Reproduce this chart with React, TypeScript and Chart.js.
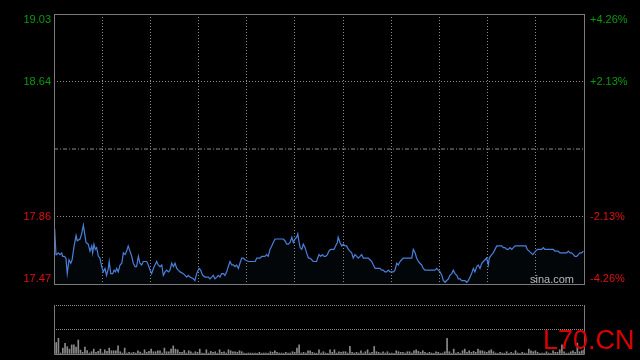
import React, { useEffect, useRef } from "react";
import { Chart, registerables } from "chart.js";

Chart.register(...registerables);

// ---- data ----
const prevClose = 18.25;
const priceTicks = [17.47, 17.86, 18.25, 18.64, 19.03];
const pctTicks = ["-4.26%", "-2.13%", "", "+2.13%", "+4.26%"];
const sessionMinutes = 240;
const gridSections = 11;
const volumeAxisMax = 500;

const times = [
  0.3, 0.9, 1.2, 1.9, 2.7, 3.5, 3.9, 4.7, 5.4, 6.0, 6.8, 7.6, 8.2, 9.1, 10.0, 10.5, 11.8, 12.5, 13.3, 13.9,
  14.5, 15.5, 16.3, 17.1, 17.5, 18.1, 18.7, 19.3, 20.1, 20.8, 21.6, 22.3, 23.1, 23.8, 24.6, 25.0, 25.7, 26.6, 27.2, 27.8,
  28.4, 29.1, 29.9, 30.7, 31.4, 32.2, 32.9, 33.6, 34.4, 35.2, 35.9, 36.7, 37.4, 38.2, 38.9, 39.7, 40.4, 41.2, 42.0, 42.7,
  43.5, 44.2, 45.3, 46.5, 47.2, 48.0, 48.8, 49.5, 50.3, 51.0, 51.8, 52.5, 53.3, 54.1, 54.8, 55.6, 56.3, 57.1, 58.6, 60.1,
  60.8, 61.6, 63.1, 63.8, 64.6, 65.7, 66.4, 67.3, 68.4, 69.9, 70.6, 71.4, 72.1, 72.9, 73.7, 74.4, 75.2, 75.9, 76.7,
  77.4, 78.2, 78.9, 79.7, 80.5, 81.2, 82.0, 82.7, 83.5, 84.2, 85.0, 85.7, 86.5, 88.0, 89.2, 90.3, 91.1, 91.8, 92.6, 93.3,
  94.1, 94.8, 95.5, 96.3, 97.0, 97.8, 98.6, 99.3, 100.1, 100.8, 101.6, 102.3, 103.1, 103.8, 104.6, 105.4, 106.1, 106.9, 107.7, 108.4,
  109.1, 109.9, 110.4, 111.0, 111.5, 112.2, 112.9, 113.7, 114.4, 115.2, 115.9, 116.7, 117.4, 118.2, 118.9, 119.4, 120.0, 120.8, 121.5, 122.3,
  123.0, 123.8, 124.5, 125.3, 126.0, 126.8, 127.5, 128.3, 128.7, 129.5, 130.3, 131.0, 131.8, 132.5, 133.3, 134.0, 134.8, 135.5, 136.3, 137.1,
  137.8, 138.6, 139.3, 140.1, 140.8, 141.6, 142.3, 143.1, 143.9, 144.6, 145.4, 146.1, 146.9, 147.6, 148.4, 149.1, 149.9, 150.6, 151.4, 152.2,
  152.9, 153.7, 154.4, 155.2, 155.9, 156.7, 157.4, 158.2, 158.9,
  159.7, 161.2, 162.0, 162.7, 163.5, 164.2, 165.0, 165.7, 166.5, 167.2, 168.0, 169.5, 171.0, 172.5, 173.3, 174.0, 174.8, 175.6, 176.3, 177.1,
  177.8, 178.6, 179.3, 180.1, 180.8, 181.6, 182.4, 183.1, 183.9, 184.6, 185.4, 186.1, 186.9, 187.6, 188.4, 189.1, 189.9, 190.6, 191.4, 192.1,
  192.9, 193.7, 194.4, 195.2, 195.9, 196.7, 197.1, 198.2, 198.9, 199.7, 200.5, 201.2, 202.7, 203.5, 204.2, 205.0, 205.7, 206.5, 207.3, 208.0,
  208.8, 211.0, 213.7, 214.3, 215.2, 216.0, 216.8, 217.4, 218.1, 218.9, 219.8, 220.8, 221.6, 222.3, 223.1, 223.8, 224.6, 225.3, 226.1, 226.8,
  227.6, 228.3, 229.1, 229.9, 230.6, 231.4, 232.2, 232.9, 233.7, 234.4, 235.2, 235.9, 236.7, 237.4, 238.2, 239.0, 239.7,
];

const prices = [
  17.79, 17.64, 17.64, 17.65, 17.64, 17.65, 17.63, 17.63, 17.62, 17.53, 17.61, 17.59, 17.61, 17.69, 17.75, 17.72, 17.73, 17.76, 17.81, 17.76,
  17.71, 17.70, 17.66, 17.69, 17.65, 17.70, 17.67, 17.68, 17.63, 17.62, 17.57, 17.54, 17.56, 17.52, 17.56, 17.60, 17.53, 17.53, 17.55, 17.54,
  17.56, 17.54, 17.58, 17.59, 17.65, 17.64, 17.66, 17.69, 17.66, 17.63, 17.59, 17.57, 17.57, 17.63, 17.59, 17.58, 17.60, 17.60, 17.60, 17.58,
  17.55, 17.53, 17.57, 17.60, 17.58, 17.57, 17.58, 17.52, 17.54, 17.55, 17.54, 17.55, 17.59, 17.57, 17.59, 17.56, 17.55, 17.54, 17.53, 17.51,
  17.52, 17.51, 17.50, 17.49, 17.53, 17.56, 17.55, 17.52, 17.51, 17.51, 17.50, 17.51, 17.52, 17.50, 17.51, 17.52, 17.51, 17.53, 17.53,
  17.52, 17.54, 17.57, 17.60, 17.58, 17.58, 17.57, 17.58, 17.56, 17.59, 17.62, 17.62, 17.61, 17.60, 17.60, 17.60, 17.60, 17.62, 17.62, 17.62,
  17.63, 17.63, 17.63, 17.64, 17.63, 17.67, 17.69, 17.71, 17.73, 17.73, 17.73, 17.73, 17.73, 17.73, 17.72, 17.70, 17.70, 17.71, 17.74, 17.71,
  17.73, 17.74, 17.76, 17.71, 17.68, 17.67, 17.70, 17.68, 17.65, 17.62, 17.62, 17.61, 17.60, 17.60, 17.60, 17.62, 17.64, 17.63, 17.64, 17.63,
  17.63, 17.64, 17.66, 17.67, 17.67, 17.67, 17.69, 17.71, 17.74, 17.71, 17.69, 17.70, 17.69, 17.69, 17.67, 17.66, 17.65, 17.62, 17.64, 17.63,
  17.62, 17.63, 17.64, 17.62, 17.62, 17.62, 17.62, 17.61, 17.60, 17.58, 17.56, 17.56, 17.56, 17.56, 17.55, 17.55, 17.54, 17.54, 17.55, 17.54,
  17.54, 17.54, 17.55, 17.59, 17.58, 17.60, 17.61, 17.62, 17.62,
  17.62, 17.62, 17.62, 17.67, 17.65, 17.62, 17.60, 17.59, 17.58, 17.56, 17.55, 17.55, 17.55, 17.55, 17.56, 17.55, 17.54, 17.52, 17.49, 17.48,
  17.49, 17.50, 17.52, 17.53, 17.55, 17.53, 17.52, 17.50, 17.50, 17.49, 17.49, 17.49, 17.48, 17.49, 17.51, 17.53, 17.56, 17.54, 17.57, 17.58,
  17.56, 17.59, 17.60, 17.61, 17.62, 17.58, 17.62, 17.64, 17.65, 17.67, 17.69, 17.69, 17.69, 17.68, 17.68, 17.67, 17.67, 17.68, 17.67, 17.68,
  17.69, 17.69, 17.69, 17.67, 17.66, 17.65, 17.64, 17.65, 17.66, 17.67, 17.67, 17.67, 17.68, 17.67, 17.67, 17.67, 17.67, 17.67, 17.67, 17.66,
  17.66, 17.66, 17.65, 17.65, 17.65, 17.65, 17.65, 17.66, 17.65, 17.65, 17.64, 17.63, 17.63, 17.64, 17.65, 17.65, 17.66,
];

// one value per minute, 0..240
const volumes = [
  60, 117, 160, 10, 60, 110, 75, 50, 93, 93, 70, 143, 40, 17, 70, 35, 10, 23, 50, 17,
  27, 50, 10, 43, 27, 60, 33, 33, 33, 83, 23, 10, 60, 10, 17, 10, 17, 10, 33, 20,
  8, 43, 17, 27, 50, 23, 23, 33, 33, 10, 60, 23, 23, 50, 83, 50, 43, 17, 17, 37,
  10, 33, 23, 10, 23, 17, 50, 10, 8, 43, 10, 27, 17, 23, 8, 43, 17, 23, 10, 43,
  33, 23, 23, 17, 33, 23, 10, 8, 10, 10, 8, 10, 8, 17, 8, 10, 10, 8, 23, 17,
  33, 17, 10, 10, 8, 17, 10, 10, 23, 17, 60, 93, 10, 17, 10, 33, 33, 17, 10, 8,
  43, 10, 23, 10, 8, 43, 17, 43, 10, 23, 17, 23, 23, 10, 77, 17, 10, 17, 10, 33,
  10, 23, 43, 10, 17, 77, 23, 17, 10, 23, 10, 23, 8, 10, 8, 33, 23, 17, 17, 10,
  23, 23, 10, 33, 43, 27, 17, 33, 17, 8, 17, 10, 8, 23, 17, 8, 10, 23, 160, 23,
  8, 50, 10, 17, 8, 33, 50, 17, 33, 17, 27, 17, 50, 33, 33, 23, 17, 33, 43, 23,
  10, 8, 17, 10, 8, 23, 8, 17, 8, 33, 10, 8, 17, 10, 8, 50, 33, 23, 33, 17,
  8, 10, 8, 23, 10, 8, 33, 17, 17, 43, 93, 23, 8, 10, 23, 33, 17, 110, 23, 33,
  43,
];

// ---- style ----
const FONT = "'Liberation Sans', Arial, sans-serif";
const GREEN = "#0c9a0c";
const RED = "#e01010";
const FRAME = "#7a7a7a";
const GRID = "#8c8c8c";
const LINE = "#4a80dc";

const gridTicks = Array.from({ length: gridSections + 1 }, (_, i) => ({ value: (i * sessionMinutes) / gridSections }));

function xAxis() {
  return {
    type: "linear" as const,
    min: 0,
    max: sessionMinutes,
    ticks: { display: false },
    grid: { color: GRID, lineWidth: 1, drawTicks: false },
    border: { display: false, dash: [1, 2] },
    afterBuildTicks: (s: any) => {
      s.ticks = gridTicks.map((t) => ({ ...t }));
    },
    afterFit: (s: any) => {
      s.height = 0;
    },
  };
}

const pricePlugin = {
  id: "priceFrameLabels",
  afterDraw(chart: any) {
    const { ctx, chartArea } = chart;
    const ys = chart.scales.y;
    ctx.save();
    ctx.strokeStyle = FRAME;
    ctx.lineWidth = 1;
    ctx.strokeRect(chartArea.left + 0.5, chartArea.top + 0.5, chartArea.right - chartArea.left, chartArea.bottom - chartArea.top);
    ctx.font = `11px ${FONT}`;
    priceTicks.forEach((v, i) => {
      if (Math.abs(v - prevClose) < 1e-6) return;
      const py = ys.getPixelForValue(v);
      ctx.fillStyle = v > prevClose ? GREEN : RED;
      ctx.textBaseline = i === priceTicks.length - 1 ? "top" : i === 0 ? "bottom" : "middle";
      ctx.textAlign = "right";
      ctx.fillText(v.toFixed(2), chartArea.left - 3, py);
      ctx.textAlign = "left";
      ctx.fillText(pctTicks[i], chartArea.right + 6, py);
    });
    ctx.restore();
  },
};

const volumePlugin = {
  id: "volumeFrame",
  afterDraw(chart: any) {
    const { ctx, chartArea } = chart;
    ctx.save();
    ctx.strokeStyle = FRAME;
    ctx.lineWidth = 1;
    ctx.beginPath();
    ctx.moveTo(chartArea.left + 0.5, chartArea.top);
    ctx.lineTo(chartArea.left + 0.5, chartArea.bottom + 0.5);
    ctx.lineTo(chartArea.right + 0.5, chartArea.bottom + 0.5);
    ctx.lineTo(chartArea.right + 0.5, chartArea.top);
    ctx.stroke();
    ctx.restore();
  },
};

export default function App() {
  const priceRef = useRef<HTMLCanvasElement>(null);
  const volRef = useRef<HTMLCanvasElement>(null);

  useEffect(() => {
    const n = Math.min(times.length, prices.length);
    const pricePoints = Array.from({ length: n }, (_, i) => ({ x: times[i], y: prices[i] }));
    const priceChart = new Chart(priceRef.current!, {
      type: "line",
      data: {
        datasets: [
          {
            data: pricePoints,
            borderColor: LINE,
            borderWidth: 1.2,
            pointRadius: 0,
            tension: 0,
            fill: "start",
            backgroundColor: "rgba(74,128,220,0.045)",
          },
          {
            data: [
              { x: 0, y: prevClose },
              { x: sessionMinutes, y: prevClose },
            ],
            borderColor: GRID,
            borderWidth: 1,
            borderDash: [4, 2, 1, 2],
            pointRadius: 0,
            fill: false,
          },
        ],
      },
      options: {
        responsive: false,
        animation: false,
        events: [],
        layout: { padding: { top: 14, bottom: 6, left: 54, right: 56 } },
        plugins: { legend: { display: false }, tooltip: { enabled: false } },
        scales: {
          x: xAxis() as any,
          y: {
            type: "linear",
            min: priceTicks[0],
            max: priceTicks[priceTicks.length - 1],
            ticks: { display: false },
            grid: {
              drawTicks: false,
              color: (c: any) => (c.tick && Math.abs(c.tick.value - prevClose) < 1e-6 ? "rgba(0,0,0,0)" : GRID),
            },
            border: { display: false, dash: [1, 2] },
            afterBuildTicks: (s: any) => {
              s.ticks = priceTicks.map((v) => ({ value: v }));
            },
            afterFit: (s: any) => {
              s.width = 0;
            },
          },
        },
      },
      plugins: [pricePlugin],
    });

    const volPoints = volumes.map((v, i) => ({ x: i, y: v }));
    const volChart = new Chart(volRef.current!, {
      type: "bar",
      data: {
        datasets: [
          {
            data: volPoints as any,
            backgroundColor: "#8a8a8a",
            barThickness: 1,
            borderWidth: 0,
          },
        ],
      },
      options: {
        responsive: false,
        animation: false,
        events: [],
        layout: { padding: { top: 15, bottom: 6, left: 54, right: 56 } },
        plugins: { legend: { display: false }, tooltip: { enabled: false } },
        scales: {
          x: { ...(xAxis() as any), grid: { display: false }, offset: false },
          y: {
            type: "linear",
            min: 0,
            max: volumeAxisMax,
            ticks: { display: false },
            grid: {
              drawTicks: false,
              color: (c: any) => (c.tick && c.tick.value === 0 ? "rgba(0,0,0,0)" : GRID),
            },
            border: { display: false, dash: [1, 1] },
            afterBuildTicks: (s: any) => {
              s.ticks = [0, volumeAxisMax / 2, volumeAxisMax].map((v) => ({ value: v }));
            },
            afterFit: (s: any) => {
              s.width = 0;
            },
          },
        },
      },
      plugins: [volumePlugin],
    });

    return () => {
      priceChart.destroy();
      volChart.destroy();
    };
  }, []);

  return (
    <div style={{ position: "fixed", left: 0, top: 0, width: 640, height: 360, background: "#000", overflow: "hidden" }}>
      <canvas ref={priceRef} width={640} height={290} style={{ position: "absolute", left: 0, top: 0 }} />
      <canvas ref={volRef} width={640} height={70} style={{ position: "absolute", left: 0, top: 290 }} />
      <div
        style={{
          position: "absolute",
          right: 66,
          top: 273,
          font: `11px ${FONT}`,
          lineHeight: "12px",
          color: "#b8b8b8",
        }}
      >
        sina.com
      </div>
      <div
        style={{
          position: "absolute",
          left: 543,
          top: 327,
          font: `27px ${FONT}`,
          lineHeight: "27px",
          color: "#dd0000",
        }}
      >
        L70.CN
      </div>
    </div>
  );
}
